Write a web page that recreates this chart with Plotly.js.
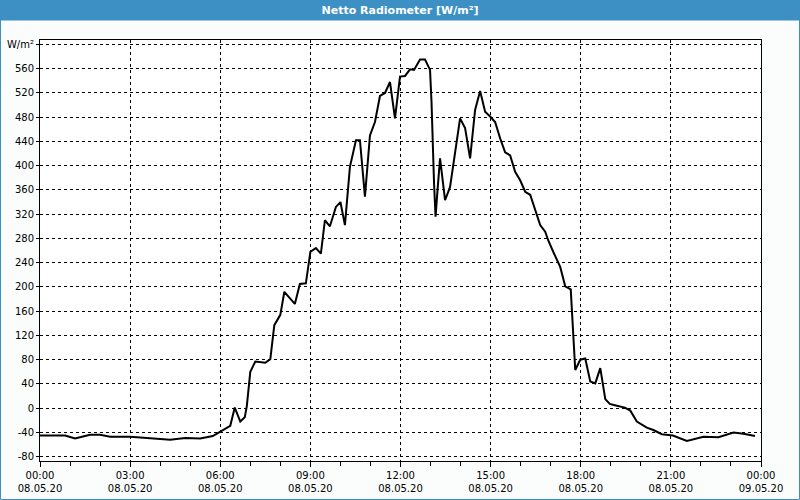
<!DOCTYPE html>
<html>
<head>
<meta charset="utf-8">
<script src="https://cdn.plot.ly/plotly-3.0.1.min.js"></script>
<style>html,body{margin:0;padding:0;background:#fbfdfc;}#chart{width:800px;height:500px;}</style>
</head>
<body>
<div id="chart"></div>
<script>
const chartTitle = "Netto Radiometer [W/m²]";
const unitLabel = "W/m²";
const times = [
 "00:00","00:50","01:10","01:40","02:00","02:20","03:00","03:40","04:20","04:50",
 "05:20","05:45","06:00","06:20","06:29","06:40","06:49","06:53","07:00","07:10",
 "07:30","07:40","07:48","08:00","08:08","08:29","08:39","08:51","09:00","09:11",
 "09:21","09:29","09:39","09:51","10:00","10:09","10:19","10:31","10:39","10:49",
 "10:59","11:09","11:19","11:29","11:39","11:49","11:59","12:09","12:19","12:27",
 "12:39","12:49","12:59","13:02","13:07","13:10","13:14","13:19","13:29","13:39",
 "13:59","14:09","14:19","14:29","14:39","14:49","14:59","15:09","15:19","15:29",
 "15:39","15:49","15:59","16:09","16:19","16:29","16:39","16:49","16:55","17:05",
 "17:19","17:29","17:40","17:49","17:59","18:09","18:19","18:29","18:39","18:49",
 "18:58","19:08","19:28","19:39","19:52","20:12","20:25","20:42","21:04","21:32",
 "21:45","22:05","22:35","22:52","23:05","23:25","23:48"
];
const values = [
 -45,-45,-50,-44,-44,-47,-47,-49,-52,-49,
 -50,-46,-39,-29,1,-22,-15,3,60,77,
 75,81,137,154,192,172,205,206,258,264,
 255,310,300,332,340,302,398,442,442,349,
 450,472,515,520,538,478,547,548,559,558,
 575,575,558,504,371,316,360,412,343,365,
 478,462,412,492,523,489,481,472,445,422,
 417,390,376,357,352,327,302,291,277,258,
 233,201,196,63,80,82,44,41,66,15,
 7,5,1,-4,-22,-32,-36,-43,-45,-54,
 -51,-47,-48,-44,-40,-42,-46
];
const day = "2020-05-08 ";
const xTimes = times.map(t => day + t);
const yTickVals = [-80,-40,0,40,80,120,160,200,240,280,320,360,400,440,480,520,560,600];
const yTickText = yTickVals.map(v => v === 600 ? unitLabel : String(v));

const fontFam = "DejaVu Sans, Verdana, sans-serif";
const W = 721, H = 421, L = 40, R = 39, T = 40, B = 39;
const px = v => v / W, py = v => v / H;

const trace = {
  x: xTimes, y: values, type: "scatter", mode: "lines",
  line: {color: "#000000", width: 2}, hoverinfo: "x+y"
};

const layout = {
  width: 800, height: 500,
  margin: {l: L, r: R, t: T, b: B, pad: 0},
  paper_bgcolor: "#fbfdfc",
  plot_bgcolor: "#ffffff",
  showlegend: false,
  title: {
    text: "<b>" + chartTitle + "</b>",
    x: 0.5, xanchor: "center", xref: "container",
    y: 1 - 10/500, yanchor: "middle", yref: "container",
    font: {family: fontFam, size: 11, color: "#ffffff"}
  },
  xaxis: {
    type: "date",
    range: ["2020-05-08 00:00", "2020-05-09 00:00"],
    tick0: "2020-05-08 00:00", dtick: 3*3600000,
    tickformat: "%H:%M<br>%d.%m.%y",
    ticks: "outside", ticklen: 5, tickcolor: "#000",
    minor: {dtick: 3600000, ticks: "outside", ticklen: 4, tickcolor: "#000", showgrid: false},
    showgrid: true, gridcolor: "#000000", gridwidth: 1, griddash: "3px,3px",
    showline: true, linecolor: "#000", linewidth: 1, mirror: true,
    zeroline: false,
    tickfont: {family: fontFam, size: 10, color: "#000"},
    fixedrange: true
  },
  yaxis: {
    range: [-87.1, 607.3],
    tickvals: yTickVals, ticktext: yTickText,
    ticks: "outside", ticklen: 3, tickcolor: "#000",
    showgrid: true, gridcolor: "#000000", gridwidth: 1, griddash: "3px,3px",
    showline: true, linecolor: "#000", linewidth: 1, mirror: true,
    zeroline: false,
    tickfont: {family: fontFam, size: 10, color: "#000"},
    fixedrange: true
  },
  shapes: [
    {type: "rect", xref: "paper", yref: "paper", layer: "below",
     x0: px(-L), x1: 1 + px(R), y0: 1 + py(T - 20), y1: 1 + py(T),
     fillcolor: "#3c90c4", line: {width: 0}},
    {type: "rect", xref: "paper", yref: "paper", layer: "above",
     x0: px(-L + 0.5), x1: 1 + px(R - 0.5), y0: -py(B - 0.5), y1: 1 + py(T - 20),
     fillcolor: "rgba(0,0,0,0)", line: {color: "#3c90c4", width: 1}}
  ]
};

Plotly.newPlot("chart", [trace], layout, {displayModeBar: false, staticPlot: true});
</script>
</body>
</html>
